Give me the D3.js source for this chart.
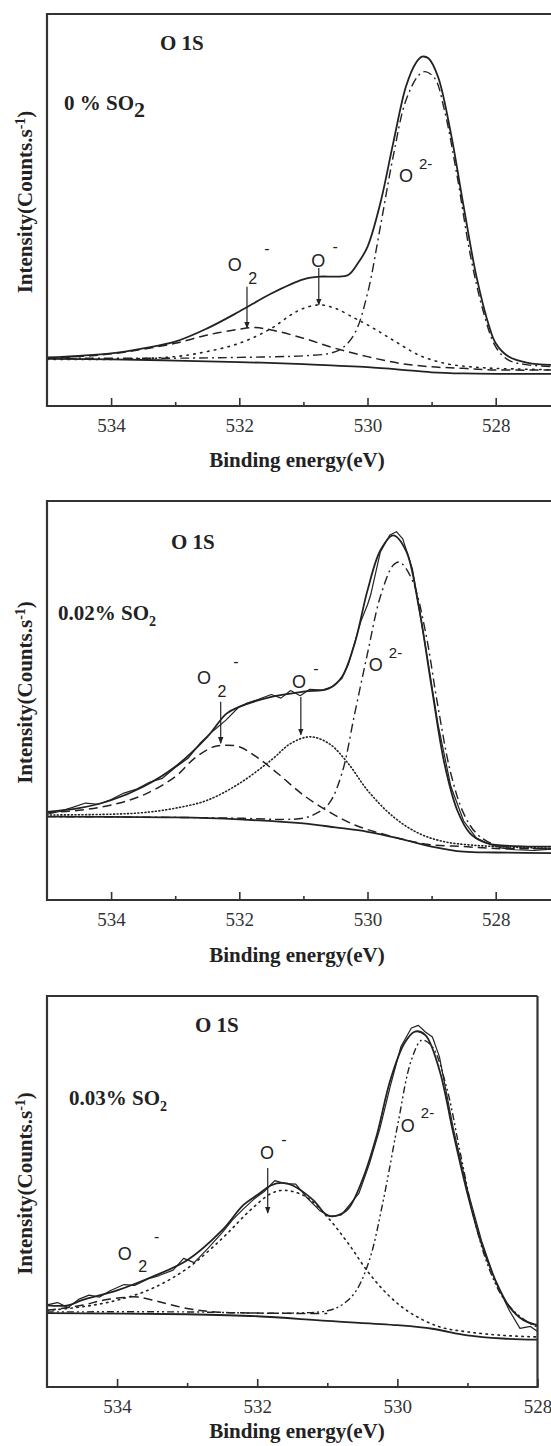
<!DOCTYPE html>
<html>
<head>
<meta charset="utf-8">
<script src="https://cdn.jsdelivr.net/npm/d3@7"></script>
<style>
  body { margin: 0; background: #fff; }
  svg { display: block; }
</style>
</head>
<body>
<div id="chart"></div>
<script>
// O 1s XPS spectra, three SO2 levels. Points are [binding energy (eV), intensity (a.u.)]
// intensity runs 0 (bottom axis) .. 100 (top of frame)

var majorTicks = [534, 532, 530, 528];
var minorTicks = [533, 531, 529];

// ---- 0 % SO2
var p1Envelope = [[535,12.4],[534.5,12.8],[534,13.4],[533.5,14.7],[533,16.4],[532.5,19.8],[532,24.1],[531.5,28.7],[531,32.3],[530.75,33.0],[530.5,33.0],[530.3,33.4],[530.15,36.4],[530,40.6],[529.8,51.7],[529.6,67],[529.4,81.5],[529.25,87.4],[529.15,89.1],[529.05,88.7],[528.9,84],[528.7,69.6],[528.5,50.9],[528.3,33],[528.1,20.2],[528,16],[527.8,12.6],[527.5,11],[527,10.4]];
var p1Background = [[535,12.0],[534,11.9],[533,11.6],[532,11.2],[531,10.7],[530.5,10.3],[530,9.9],[529.5,9.3],[529,8.6],[528.5,8.3],[528,8.2],[527,8.2]];
var p1Lattice = [[535,12.2],[533,12.2],[532,12.4],[531,12.8],[530.6,13.4],[530.4,14.7],[530.2,18.5],[530,28.7],[529.8,45.7],[529.6,63.6],[529.4,78],[529.2,84.4],[529.1,85.3],[528.95,83.6],[528.8,75.5],[528.6,58.5],[528.4,38.9],[528.2,24.5],[528,15.1],[527.8,11.7],[527.5,10.5],[527,10]];
var p1Oxide = [[535,11.9],[534,11.9],[533,12.6],[532.5,13.9],[532,16],[531.5,19.8],[531.2,23.2],[531,24.9],[530.75,25.8],[530.5,24.9],[530.2,22.4],[530,20.7],[529.6,16.8],[529.2,13],[528.8,10.9],[528.4,10],[528,9.6],[527,9.2]];
var p1Superoxide = [[535,12.2],[534.5,12.6],[534,13.3],[533.5,14.5],[533,16],[532.5,18.1],[532,19.6],[531.75,20],[531.5,19.4],[531,17.3],[530.5,14.7],[530,12.6],[529.5,10.9],[529,10],[528.5,9.6],[528,9.2],[527,9.2]];

// ---- 0.02 % SO2
var p2Raw = [[535,21.5],[534.8,22.2],[534.6,23.2],[534.4,24.3],[534.2,24.0],[534,25.2],[533.8,26.8],[533.6,27.8],[533.4,29.5],[533.2,30.5],[533,33.2],[532.8,35.5],[532.6,39.5],[532.4,42.5],[532.2,45.2],[532,48.5],[531.9,49.2],[531.7,50.3],[531.5,51.5],[531.35,50.6],[531.2,52.5],[531.05,51.2],[530.9,52.8],[530.7,52.6],[530.55,53.5],[530.4,55.5],[530.3,59],[530.2,64.5],[530.1,70],[530,74],[529.95,76.5],[529.8,87.2],[529.65,91.5],[529.55,92.3],[529.45,90.5],[529.3,83],[529.1,64],[528.9,44],[528.7,28.5],[528.5,19.8],[528.3,15.5],[528.1,14.0],[527.9,13.0],[527.7,12.6],[527.4,12.4],[527,12.9]];
var p2Envelope = [[535,22.1],[534.5,23],[534,25],[533.5,28.4],[533,33.4],[532.5,40.9],[532.2,46.7],[532,48.4],[531.5,50.9],[531,52.2],[530.6,53],[530.4,55.9],[530.2,64.3],[530,77.6],[529.8,87.6],[529.6,91.4],[529.4,87.6],[529.2,73.5],[529,53.4],[528.8,34.2],[528.6,22.5],[528.4,16.7],[528.2,14.6],[528,13.8],[527.5,13.4],[527,13.4]];
var p2Background = [[535,20.9],[533,20.7],[532,20.2],[531,19.2],[530.5,18.2],[530,17.1],[529.5,15.4],[529,13.4],[528.5,12.1],[528,11.9],[527,11.7]];
var p2Lattice = [[535,20.9],[533,20.7],[532,20.5],[531.3,20.2],[531,20.5],[530.8,21.7],[530.6,24.2],[530.4,31.7],[530.2,46.7],[530,61.8],[529.8,76],[529.6,83.9],[529.5,84.7],[529.3,80.1],[529.1,67.6],[528.9,48.4],[528.7,31.7],[528.5,21.7],[528.3,16.7],[528,13.8],[527,12.9]];
var p2Oxide = [[535,21.3],[534,21.5],[533.5,21.9],[533,23],[532.5,25],[532,29.2],[531.5,35.1],[531.2,39.2],[530.9,40.9],[530.6,39.2],[530.3,34.2],[530,27.5],[529.6,20.9],[529.2,16.7],[528.8,14.6],[528.4,13.8],[528,13.4],[527,12.9]];
var p2Superoxide = [[535,21.9],[534.5,22.5],[534,23.8],[533.5,26.3],[533,30.9],[532.7,35.5],[532.4,38.4],[532.2,38.8],[532,38.4],[531.7,35.5],[531.4,31.7],[531,26.3],[530.6,22.1],[530.2,18.8],[529.8,16.7],[529.4,15],[529,13.8],[528.5,13.4],[528,12.9],[527,12.9]];

// ---- 0.03 % SO2
var p3Raw = [[535,21.0],[534.85,21.6],[534.7,20.3],[534.55,22.4],[534.4,23.5],[534.25,23.0],[534.1,24.6],[533.9,26.2],[533.75,26.0],[533.55,27.7],[533.4,28.5],[533.2,29.9],[533.05,32.9],[532.9,31.8],[532.7,35.5],[532.5,39.5],[532.35,42.8],[532.2,45.5],[532.05,48.0],[531.9,50.0],[531.75,52.8],[531.6,52.0],[531.45,51.9],[531.3,48.6],[531.1,45.0],[530.95,43.6],[530.8,44.0],[530.7,46.2],[530.55,49.5],[530.4,57],[530.25,66],[530.1,77],[529.95,87],[529.8,91.8],[529.7,92.5],[529.6,90.8],[529.5,89.5],[529.4,84.5],[529.2,66],[529,50.5],[528.8,37.5],[528.6,27],[528.4,19.5],[528.25,15.0],[528.1,15.5],[528,14.2]];
var p3Envelope = [[535,20.9],[534.7,20.9],[534.5,22.2],[534,24.7],[533.5,28.2],[533,32.4],[532.5,40.1],[532.2,46.5],[532,49.1],[531.8,51.6],[531.65,52.2],[531.5,51.6],[531.2,47.8],[531,43.9],[530.85,43.9],[530.7,45.6],[530.5,52.9],[530.3,64],[530.1,78.5],[529.9,87.9],[529.75,90.9],[529.6,90],[529.4,81.1],[529.2,64.8],[529,49.5],[528.8,36.7],[528.6,27.3],[528.4,20.5],[528.2,17.1],[528,15.8]];
var p3Background = [[535,18.9],[533,18.6],[532,18.1],[531,16.9],[530,15.8],[529.5,14.9],[529,13.2],[528.5,12.4],[528,12.1]];
var p3Lattice = [[535,19.2],[533,19.2],[532,18.9],[531.5,18.9],[531,19.5],[530.8,20.9],[530.6,24.3],[530.4,32.4],[530.2,47.8],[530,66.6],[529.8,83.6],[529.65,88.7],[529.5,87],[529.3,76.8],[529.1,59.7],[528.9,42.7],[528.7,30.7],[528.5,23],[528.3,18.8],[528.1,16.2],[528,15.4]];
var p3Oxide = [[535,19.6],[534.5,20.5],[534,22.2],[533.5,25.2],[533,30.3],[532.5,38],[532.1,45.2],[531.8,49.5],[531.6,50.3],[531.3,48.6],[531,43.5],[530.7,36.7],[530.4,29],[530.1,23],[529.8,18.8],[529.4,15.4],[529,14.1],[528.5,13.2],[528,12.8]];
var p3Superoxide = [[535,19.6],[534.5,20.9],[534.2,22.2],[533.9,22.9],[533.7,23],[533.4,21.8],[533,20.1],[532.6,19.2],[532,18.9],[531,18.8]];

// annotations: [kind, energy, intensity] of the "O" glyph centre, and arrow [energy, from, to]
var p1Labels = [["O2-", 532.07, 36], ["O-", 530.77, 37.1], ["O2-lat", 529.40, 58.9]];
var p1Arrows = [[531.88, 30.4, 19.9], [530.76, 35.2, 25.8]];
var p2Labels = [["O2-", 532.55, 55.7], ["O-", 531.07, 54.7], ["O2-lat", 529.87, 58.9]];
var p2Arrows = [[532.29, 49.7, 39.3], [531.04, 50.9, 41.4]];
var p3Labels = [["O2-", 533.89, 34.2], ["O-", 531.86, 59.9], ["O2-lat", 529.85, 67]];
var p3Arrows = [[531.85, 56, 44.5]];

var serif = "'Liberation Serif', 'Times New Roman', serif";
var sans = "'Liberation Sans', Arial, sans-serif";
var ink = "#222";

var panels = [
  { top: 14, bottom: 406, right: 47 + 8 * 64.1, xmin: 527, closed: false, titleDy: 61,
    conc: "0 % SO", bigSub: true, o1s: [113, 36], concPos: [17, 96],
    envelope: p1Envelope, raw: null, background: p1Background,
    lattice: p1Lattice, latticeDash: "9,4,2,4",
    oxide: p1Oxide, oxideDash: "1.5,5.5",
    superoxide: p1Superoxide, labels: p1Labels, arrows: p1Arrows },
  { top: 501, bottom: 900, right: 47 + 8 * 64.1, xmin: 527, closed: false, titleDy: 62,
    conc: "0.02% SO", bigSub: false, o1s: [124, 48], concPos: [11, 119],
    envelope: p2Envelope, raw: p2Raw, background: p2Background,
    lattice: p2Lattice, latticeDash: "9,4,2,4",
    oxide: p2Oxide, oxideDash: "1,2.5",
    superoxide: p2Superoxide, labels: p2Labels, arrows: p2Arrows },
  { top: 996, bottom: 1387, right: 537.5, xmin: 528, closed: true, titleDy: 51,
    conc: "0.03% SO", bigSub: false, o1s: [148, 36], concPos: [22, 109],
    envelope: p3Envelope, raw: p3Raw, background: p3Background,
    lattice: p3Lattice, latticeDash: "7,3,2,3,2,3",
    oxide: p3Oxide, oxideDash: "1.5,4.5",
    superoxide: p3Superoxide, labels: p3Labels, arrows: p3Arrows }
];

var svg = d3.select("#chart").append("svg")
  .attr("width", 551).attr("height", 1446)
  .attr("viewBox", [0, 0, 551, 1446]);

svg.append("defs").append("marker")
  .attr("id", "head")
  .attr("viewBox", "0 0 10 10")
  .attr("refX", 9).attr("refY", 5)
  .attr("markerWidth", 7).attr("markerHeight", 7)
  .attr("markerUnits", "userSpaceOnUse")
  .attr("orient", "auto")
  .append("path").attr("d", "M0,1 L10,5 L0,9 Z").attr("fill", ink);

var left = 47;

panels.forEach(function(p) {
  var x = d3.scaleLinear().domain([535, p.xmin]).range([left, p.right]);
  var y = d3.scaleLinear().domain([0, 100]).range([p.bottom, p.top]);
  var g = svg.append("g");

  var smooth = d3.line().x(function(d) { return x(d[0]); }).y(function(d) { return y(d[1]); })
    .curve(d3.curveCatmullRom.alpha(0.5));
  var jagged = d3.line().x(function(d) { return x(d[0]); }).y(function(d) { return y(d[1]); });

  function draw(data, lineGen, width, dash, cap) {
    g.append("path").datum(data)
      .attr("d", lineGen)
      .attr("fill", "none")
      .attr("stroke", ink)
      .attr("stroke-width", width)
      .attr("stroke-dasharray", dash || null)
      .attr("stroke-linecap", cap || "butt")
      .attr("stroke-linejoin", "round");
  }

  draw(p.background, smooth, 1.8);
  draw(p.superoxide, smooth, 1.5, "9,5");
  draw(p.oxide, smooth, 1.6, p.oxideDash, "round");
  draw(p.lattice, smooth, 1.4, p.latticeDash);
  if (p.raw) draw(p.raw, jagged, 1.2);
  draw(p.envelope, smooth, 1.8);

  // frame (right side is cut off for the first two panels)
  var fr = p.closed ? p.right : 560;
  var frame = "M" + fr + "," + p.top + "H" + left + "V" + p.bottom + "H" + fr;
  if (p.closed) frame += "V" + p.top;
  g.append("path").attr("d", frame)
    .attr("fill", "none").attr("stroke", "#333").attr("stroke-width", 2.2);

  // ticks point inwards
  var major = g.append("g").attr("transform", "translate(0," + p.bottom + ")")
    .call(d3.axisBottom(x).tickValues(majorTicks).tickSize(-8).tickPadding(13).tickFormat(d3.format("d")));
  var minor = g.append("g").attr("transform", "translate(0," + p.bottom + ")")
    .call(d3.axisBottom(x).tickValues(minorTicks).tickSize(-4).tickFormat(""));
  [major, minor].forEach(function(a) {
    a.select(".domain").remove();
    a.selectAll("line").attr("stroke", "#333").attr("stroke-width", 1.6);
  });
  major.selectAll("text")
    .attr("font-family", serif).attr("font-size", 19).attr("fill", "#333");

  g.append("text")
    .attr("x", (left + 551) / 2 - 2).attr("y", p.bottom + p.titleDy)
    .attr("text-anchor", "middle")
    .attr("font-family", serif).attr("font-weight", "bold").attr("font-size", 21)
    .attr("fill", ink)
    .text("Binding energy(eV)");

  var yt = g.append("text")
    .attr("transform", "translate(32," + ((p.top + p.bottom) / 2 - 8) + ") rotate(-90)")
    .attr("text-anchor", "middle")
    .attr("font-family", serif).attr("font-weight", "bold").attr("font-size", 21)
    .attr("fill", ink);
  yt.append("tspan").text("Intensity(Counts.s");
  yt.append("tspan").attr("dy", -7).attr("font-size", 14).text("-1");
  yt.append("tspan").attr("dy", 7).text(")");

  g.append("text")
    .attr("x", left + p.o1s[0]).attr("y", p.top + p.o1s[1])
    .attr("font-family", serif).attr("font-weight", "bold").attr("font-size", 21)
    .attr("fill", ink).text("O 1S");

  var ct = g.append("text")
    .attr("x", left + p.concPos[0]).attr("y", p.top + p.concPos[1])
    .attr("font-family", serif).attr("font-weight", "bold").attr("font-size", 21)
    .attr("fill", ink);
  ct.append("tspan").text(p.conc);
  ct.append("tspan")
    .attr("dy", p.bigSub ? 7 : 6)
    .attr("font-size", p.bigSub ? 22 : 14)
    .text("2");

  // peak labels
  p.labels.forEach(function(l) {
    var lx = x(l[1]), ly = y(l[2]);
    var t = g.append("g").attr("transform", "translate(" + lx + "," + ly + ")")
      .attr("font-family", sans).attr("fill", ink);
    t.append("text").attr("text-anchor", "middle").attr("dy", "0.36em")
      .attr("font-size", 18).text("O");
    if (l[0] === "O2-") {
      t.append("text").attr("x", 18).attr("y", 13).attr("dy", "0.36em")
        .attr("text-anchor", "middle").attr("font-size", 16).text("2");
      t.append("text").attr("x", 32).attr("y", -17).attr("dy", "0.36em")
        .attr("text-anchor", "middle").attr("font-size", 16).text("-");
    } else if (l[0] === "O-") {
      t.append("text").attr("x", 17).attr("y", -14).attr("dy", "0.36em")
        .attr("text-anchor", "middle").attr("font-size", 16).text("-");
    } else {
      t.append("text").attr("x", 13).attr("y", -12).attr("dy", "0.36em")
        .attr("font-size", 15).text("2-");
    }
  });

  p.arrows.forEach(function(a) {
    g.append("line")
      .attr("x1", x(a[0])).attr("x2", x(a[0]))
      .attr("y1", y(a[1])).attr("y2", y(a[2]))
      .attr("stroke", ink).attr("stroke-width", 1.2)
      .attr("marker-end", "url(#head)");
  });
});
</script>
</body>
</html>
